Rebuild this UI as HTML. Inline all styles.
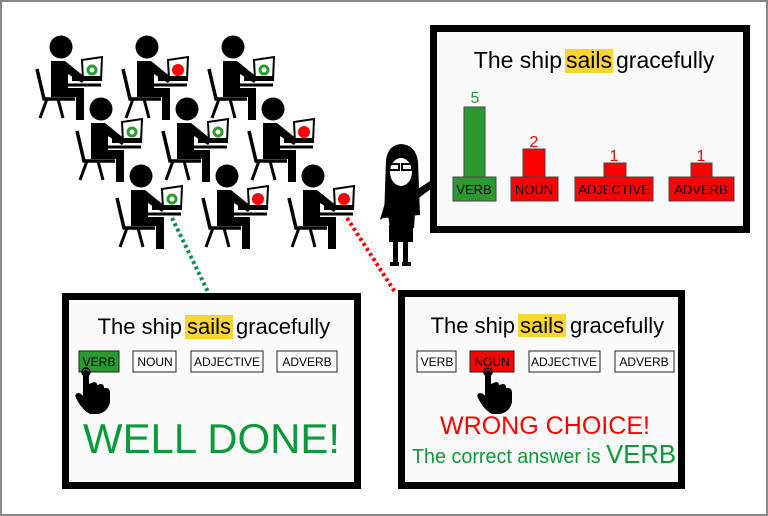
<!DOCTYPE html>
<html><head><meta charset="utf-8"><style>
body{margin:0;background:#fff}
svg{display:block}
text{font-family:"Liberation Sans",sans-serif}
</style></head><body>
<svg width="768" height="516" viewBox="0 0 768 516" xmlns="http://www.w3.org/2000/svg">
<defs>
<g id="st">
<circle cx="0" cy="0" r="11.5" fill="#000"/>
<path d="M-10,14 L4,14 L25,31 L21,36 L7,27 L7,41 L23,41 L23,73 L15,73 L15,50 L-10,50 Z" fill="#000"/>
<path d="M7,38 L40,38" stroke="#000" stroke-width="3"/>
<path d="M-24,22 L-17,52 L14,52" stroke="#000" stroke-width="3.5" fill="none"/>
<path d="M-14,52 L-21,71 M-3,52 L2,71" stroke="#000" stroke-width="3"/>
<path d="M21,13 L41,10 L40,33 L22,33 Z" fill="#fff" stroke="#000" stroke-width="2"/>
<rect x="11" y="29" width="30" height="5" fill="#000"/>
</g>
<g id="hand">
<path d="M-3,0 Q0,-4 3,0 L3,12 L8,10 Q11,10 11,13 L15,12 Q18,12 18,16 L21,16 Q24,17 24,21 L24,30 Q22,40 12,42 L4,42 Q-4,38 -10,26 Q-12,22 -8,21 Q-5,21 -3,24 Z" fill="#000"/>
<circle cx="0" cy="0" r="4" fill="none" stroke="#000" stroke-width="1.5"/>
</g>
</defs>
<rect x="1" y="1" width="766" height="514" fill="#fff" stroke="#888" stroke-width="2"/>

<!-- students -->
<use href="#st" x="61" y="47"/>
<use href="#st" x="147" y="47"/>
<use href="#st" x="233" y="47"/>
<use href="#st" x="101" y="109"/>
<use href="#st" x="187" y="109"/>
<use href="#st" x="273" y="109"/>
<use href="#st" x="141" y="176"/>
<use href="#st" x="227" y="176"/>
<use href="#st" x="313" y="176"/>
<g stroke="#2a9a2f" stroke-width="3" fill="none">
<circle cx="92" cy="70" r="4"/><circle cx="264" cy="70" r="4"/><circle cx="132" cy="132" r="4"/><circle cx="218" cy="132" r="4"/><circle cx="172" cy="199" r="4"/>
</g>
<g fill="#f00">
<circle cx="178" cy="70" r="6"/><circle cx="304" cy="132" r="6"/><circle cx="258" cy="199" r="6"/><circle cx="344" cy="199" r="6"/>
</g>
<path d="M172,218 L210,296" stroke="#0a8f4a" stroke-width="4" stroke-dasharray="3,3"/>
<path d="M347,218 L395,292" stroke="#f00" stroke-width="4" stroke-dasharray="3,3"/>

<!-- teacher -->
<path d="M469,157 L410,196" stroke="#000" stroke-width="3"/>
<path d="M386,160 Q388,145 401,144 Q416,145 418,162 L420,215 L384,218 Z" fill="#000"/>
<ellipse cx="401" cy="172" rx="11" ry="14" fill="#fff"/>
<rect x="389" y="164" width="10" height="6" fill="none" stroke="#000" stroke-width="2"/>
<rect x="402" y="164" width="10" height="6" fill="none" stroke="#000" stroke-width="2"/>
<path d="M388,192 L414,192 L440,175 L443,180 L416,200 L414,228 L390,228 L388,215 L380,220 Z" fill="#000"/>
<rect x="389" y="225" width="24" height="17" fill="#000"/>
<rect x="393" y="240" width="5" height="25" fill="#000"/><rect x="403" y="240" width="5" height="25" fill="#000"/>
<rect x="390" y="262" width="9" height="4" fill="#000"/><rect x="402" y="262" width="9" height="4" fill="#000"/>

<!-- board -->
<rect x="433.5" y="28.5" width="313" height="201" fill="#fafafa" stroke="#000" stroke-width="7"/>
<rect x="565" y="49" width="48" height="24" fill="#fcd535"/>
<g font-size="23">
<text x="562" y="68" text-anchor="end">The ship</text>
<text x="589" y="68" text-anchor="middle">sails</text>
<text x="616" y="68">gracefully</text>
</g>
<g stroke="#444" stroke-width="1">
<rect x="464" y="107" width="21" height="70" fill="#2a9a2f"/>
<rect x="453" y="177" width="43" height="24" fill="#2a9a2f"/>
<rect x="523" y="149" width="22" height="28" fill="#f00"/>
<rect x="511" y="177" width="47" height="24" fill="#f00"/>
<rect x="604" y="163" width="22" height="14" fill="#f00"/>
<rect x="575" y="177" width="78" height="24" fill="#f00"/>
<rect x="691" y="163" width="21" height="14" fill="#f00"/>
<rect x="669" y="177" width="65" height="24" fill="#f00"/>
</g>
<g font-size="13" text-anchor="middle">
<text x="474" y="194">VERB</text><text x="534" y="194">NOUN</text><text x="614" y="194">ADJECTIVE</text><text x="701" y="194">ADVERB</text>
</g>
<g font-size="16" text-anchor="middle">
<text x="475" y="103" fill="#2a9a2f">5</text><text x="534" y="147" fill="#f00">2</text><text x="614" y="161" fill="#f00">1</text><text x="701" y="161" fill="#f00">1</text>
</g>

<!-- boxes -->
<rect x="65.5" y="296.5" width="292" height="189" fill="#fafafa" stroke="#000" stroke-width="7"/>
<rect x="401.5" y="293.5" width="280" height="192" fill="#fafafa" stroke="#000" stroke-width="7"/>

<!-- left title -->
<rect x="185" y="315" width="48" height="24" fill="#fcd535"/>
<g font-size="22">
<text x="182" y="334" text-anchor="end">The ship</text>
<text x="209" y="334" text-anchor="middle">sails</text>
<text x="236" y="334">gracefully</text>
</g>
<!-- right title -->
<rect x="518" y="314" width="48" height="23" fill="#fcd535"/>
<g font-size="22">
<text x="515" y="333" text-anchor="end">The ship</text>
<text x="542" y="333" text-anchor="middle">sails</text>
<text x="570" y="333">gracefully</text>
</g>

<g stroke="#222" stroke-width="1">
<rect x="79" y="351" width="40" height="21" fill="#2a9a2f"/>
<rect x="133" y="351" width="43" height="21" fill="#fff"/>
<rect x="191" y="351" width="72" height="21" fill="#fff"/>
<rect x="277" y="351" width="60" height="21" fill="#fff"/>
<rect x="417" y="351" width="39" height="21" fill="#fff"/>
<rect x="470" y="351" width="44" height="21" fill="#f00"/>
<rect x="529" y="351" width="71" height="21" fill="#fff"/>
<rect x="615" y="351" width="59" height="21" fill="#fff"/>
</g>
<g font-size="12" text-anchor="middle">
<text x="99" y="366">VERB</text><text x="155" y="366">NOUN</text><text x="227" y="366">ADJECTIVE</text><text x="307" y="366">ADVERB</text>
<text x="437" y="366">VERB</text><text x="492" y="366">NOUN</text><text x="564" y="366">ADJECTIVE</text><text x="644" y="366">ADVERB</text>
</g>
<use href="#hand" x="86" y="372"/>
<use href="#hand" x="488" y="372"/>
<text x="83" y="453" font-size="42" fill="#0a9a3a" textLength="257" lengthAdjust="spacingAndGlyphs">WELL DONE!</text>

<text x="440" y="434" font-size="25" fill="#f00" textLength="210" lengthAdjust="spacingAndGlyphs">WRONG CHOICE!</text>
<text x="412" y="463" font-size="20" fill="#0a9a3a" textLength="264" lengthAdjust="spacingAndGlyphs">The correct answer is <tspan font-size="26">VERB</tspan></text>
</svg>
</body></html>
